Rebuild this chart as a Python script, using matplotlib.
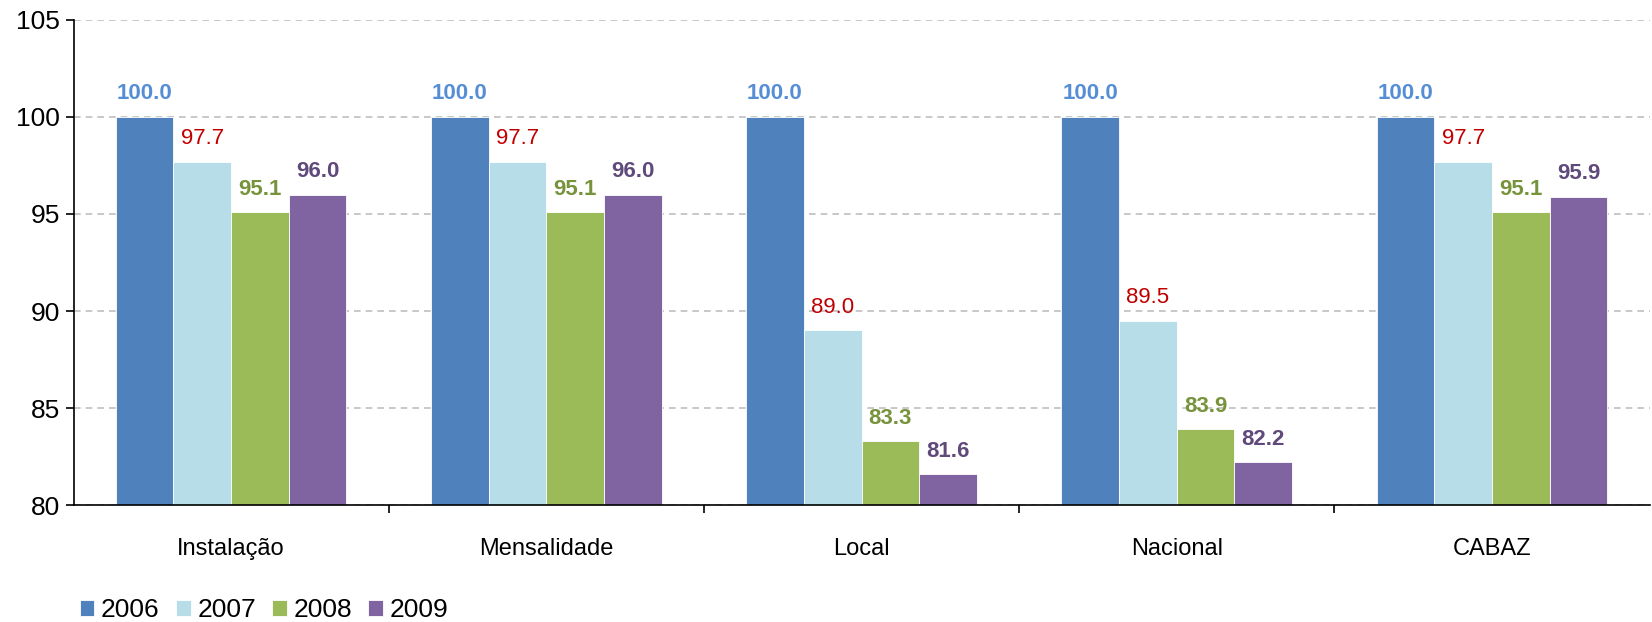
import matplotlib.pyplot as plt
import numpy as np

plt.rcParams['font.family'] = ['Liberation Sans', 'DejaVu Sans']

# Data
categories = ['Instalação', 'Mensalidade', 'Local', 'Nacional', 'CABAZ']
years = ['2006', '2007', '2008', '2009']
v2006 = [100.0, 100.0, 100.0, 100.0, 100.0]
v2007 = [97.7, 97.7, 89.0, 89.5, 97.7]
v2008 = [95.1, 95.1, 83.3, 83.9, 95.1]
v2009 = [96.0, 96.0, 81.6, 82.2, 95.9]

series = [v2006, v2007, v2008, v2009]
bar_colors = ['#4F81BD', '#B7DEE8', '#9BBB59', '#8064A2']
label_colors = ['#558ED5', '#C00000', '#77933C', '#604A7B']
label_weights = ['bold', 'normal', 'bold', 'bold']

fig = plt.figure(figsize=(16.52, 6.22), dpi=100)
ax = fig.add_axes([0.0445, 0.188, 0.954, 0.78])

x = np.arange(len(categories))
w = 0.183

for i, vals in enumerate(series):
    pos = x + (i - 1.5) * w
    ax.bar(pos, np.array(vals) - 80, w, bottom=80, color=bar_colors[i],
           edgecolor='white', linewidth=0.6, label=years[i], zorder=3)
    for p, v in zip(pos, vals):
        ax.annotate(f'{v:.1f}', (p, v), xytext=(0, 9), textcoords='offset points',
                    ha='center', va='bottom', fontsize=16, color=label_colors[i],
                    fontweight=label_weights[i])

ax.set_ylim(80, 105)
ax.set_yticks([80, 85, 90, 95, 100, 105])
ax.set_xlim(-0.5, 4.5)
ax.set_xticks(x)
ax.set_xticklabels(categories, fontsize=17)
ax.set_xticks(np.arange(0.5, 4.5, 1), minor=True)
ax.tick_params(axis='x', which='major', length=0, pad=24)
ax.tick_params(axis='x', which='minor', length=6, width=1.2, direction='out')
ax.tick_params(axis='y', labelsize=19, length=6, width=1.2, direction='out', pad=4)

ax.yaxis.grid(True, linestyle=(0, (4, 3)), color='#BFBFBF', linewidth=1.2, zorder=0)
ax.set_axisbelow(True)
for s in ['top', 'right']:
    ax.spines[s].set_visible(False)
for s in ['left', 'bottom']:
    ax.spines[s].set_linewidth(1.2)
    ax.spines[s].set_zorder(4)

fig.legend(loc='lower left', bbox_to_anchor=(0.034, -0.038), ncol=4, frameon=False,
           fontsize=19, handlelength=0.55, handleheight=0.55, handletextpad=0.25,
           columnspacing=0.62)

fig.savefig('out.png', dpi=100)
